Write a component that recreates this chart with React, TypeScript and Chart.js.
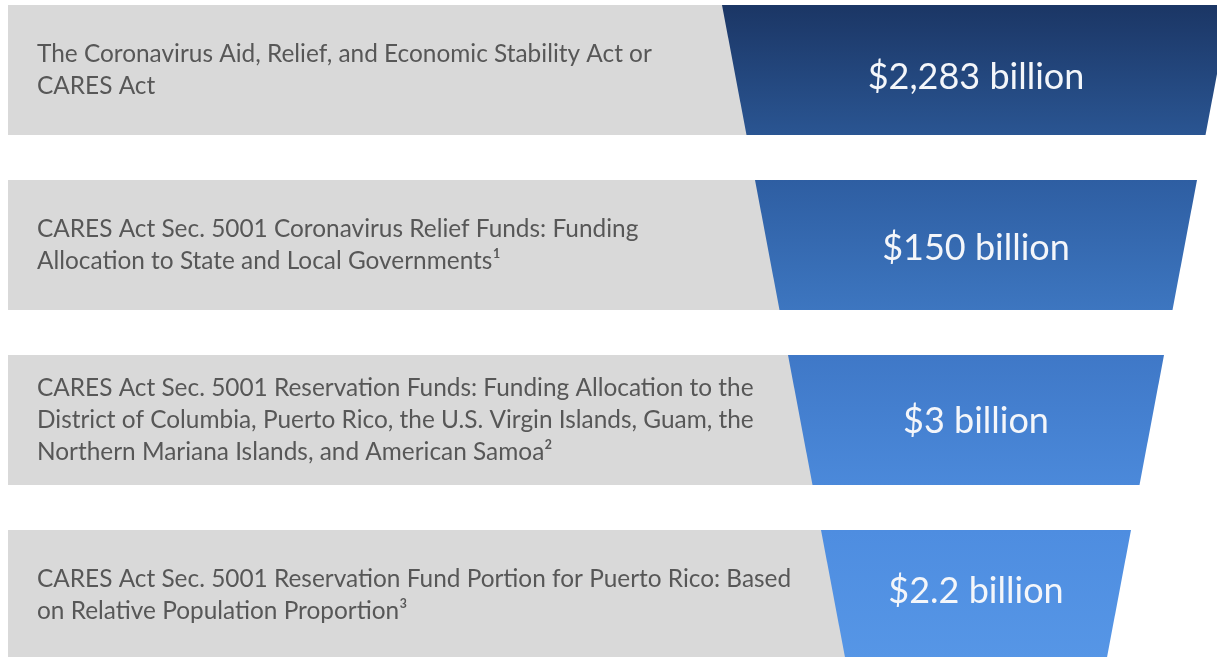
import React, { useEffect, useRef } from "react";
import { Chart, registerables } from "chart.js";

Chart.register(...registerables);

// ---------- data ----------
const stageDescriptions: string[][] = [
  ["The Coronavirus Aid, Relief, and Economic Stability Act or", "CARES Act"],
  ["CARES Act Sec. 5001 Coronavirus Relief Funds: Funding", "Allocation to State and Local Governments\u00B9"],
  [
    "CARES Act Sec. 5001 Reservation Funds: Funding Allocation to the",
    "District of Columbia, Puerto Rico, the U.S. Virgin Islands, Guam, the",
    "Northern Mariana Islands, and American Samoa\u00B2",
  ],
  ["CARES Act Sec. 5001 Reservation Fund Portion for Puerto Rico: Based", "on Relative Population Proportion\u00B3"],
];
const amountsBillion: number[] = [2283, 150, 3, 2.2];
const amountLabels: string[] = ["$2,283 billion", "$150 billion", "$3 billion", "$2.2 billion"];

// ---------- layout / style ----------
const ROW_PITCH_PX = 175;
const X_MAX = 1217;
const Y_MIN = -5 / ROW_PITCH_PX;
const Y_MAX = 652 / ROW_PITCH_PX;
const BAND = 130 / ROW_PITCH_PX;
const BAR_LEFT = 8;
const FUNNEL_CENTER = 976;
const FUNNEL_HALF_TOP = 254;
const FUNNEL_TAPER = 33;
const TEXT_LEFT = 37;
const LINE_HEIGHT = 32;
const LABEL_OFFSETS = [7.5, 3.5, 1, -4];
const GRAY = "#d9d9d9";
const TEXT_COLOR = "#575757";
const GRADIENTS: [string, string][] = [
  ["#1b3665", "#2a5592"],
  ["#2e5ea2", "#3d76c0"],
  ["#3f78c7", "#4b89da"],
  ["#4e8de0", "#5696e6"],
];
const FONT = "Lato, 'Open Sans', sans-serif";

const halfWidth = (y: number) => FUNNEL_HALF_TOP - FUNNEL_TAPER * y;

export default function App() {
  const canvasRef = useRef<HTMLCanvasElement | null>(null);

  useEffect(() => {
    const canvas = canvasRef.current;
    if (!canvas) return;

    const grayDatasets = amountsBillion.map((_, i) => ({
      label: "row" + i,
      data: [
        { x: BAR_LEFT, y: i },
        { x: FUNNEL_CENTER, y: i },
        { x: FUNNEL_CENTER, y: i + BAND },
        { x: BAR_LEFT, y: i + BAND },
        { x: BAR_LEFT, y: i },
      ],
      showLine: true,
      fill: "shape" as const,
      backgroundColor: GRAY,
      borderWidth: 0,
      borderColor: "rgba(0,0,0,0)",
      pointRadius: 0,
      tension: 0,
      order: 2,
    }));

    const funnelDatasets = amountsBillion.map((_, i) => {
      const t = i;
      const b = i + BAND;
      return {
        label: amountLabels[i],
        data: [
          { x: FUNNEL_CENTER - halfWidth(t), y: t },
          { x: FUNNEL_CENTER + halfWidth(t), y: t },
          { x: FUNNEL_CENTER + halfWidth(b), y: b },
          { x: FUNNEL_CENTER - halfWidth(b), y: b },
          { x: FUNNEL_CENTER - halfWidth(t), y: t },
        ],
        showLine: true,
        fill: "shape" as const,
        backgroundColor: (ctx: any) => {
          const chart = ctx.chart;
          const ys = chart.scales?.y;
          if (!chart.chartArea || !ys) return GRADIENTS[i][0];
          const g = chart.ctx.createLinearGradient(0, ys.getPixelForValue(t), 0, ys.getPixelForValue(b));
          g.addColorStop(0, GRADIENTS[i][0]);
          g.addColorStop(1, GRADIENTS[i][1]);
          return g;
        },
        borderWidth: 0,
        borderColor: "rgba(0,0,0,0)",
        pointRadius: 0,
        tension: 0,
        order: 1,
      };
    });

    const textPlugin = {
      id: "funnelText",
      afterDatasetsDraw(chart: any) {
        const c = chart.ctx as CanvasRenderingContext2D;
        const xs = chart.scales.x;
        const ys = chart.scales.y;
        c.save();
        stageDescriptions.forEach((lines, i) => {
          const cy = ys.getPixelForValue(i + BAND / 2);
          c.font = `24.4px ${FONT}`;
          c.fillStyle = TEXT_COLOR;
          c.textAlign = "left";
          c.textBaseline = "middle";
          const startY = cy - ((lines.length - 1) * LINE_HEIGHT) / 2;
          lines.forEach((ln, k) => {
            c.fillText(ln, xs.getPixelForValue(TEXT_LEFT), startY + k * LINE_HEIGHT);
          });
          c.font = `36px ${FONT}`;
          c.fillStyle = "#f4f6fa";
          c.textAlign = "center";
          c.fillText(amountLabels[i], xs.getPixelForValue(FUNNEL_CENTER), cy + LABEL_OFFSETS[i]);
        });
        c.restore();
      },
    };

    const chart = new Chart(canvas, {
      type: "scatter",
      data: { datasets: [...funnelDatasets, ...grayDatasets] as any },
      options: {
        animation: false,
        responsive: false,
        events: [],
        layout: { padding: 0 },
        scales: {
          x: { type: "linear", min: 0, max: X_MAX, display: false },
          y: { type: "linear", min: Y_MIN, max: Y_MAX, reverse: true, display: false },
        },
        plugins: {
          legend: { display: false },
          tooltip: { enabled: false },
        },
      },
      plugins: [textPlugin],
    });

    return () => chart.destroy();
  }, []);

  return (
    <div style={{ position: "absolute", left: 0, top: 0, width: 1217, height: 657, background: "#ffffff" }}>
      <canvas ref={canvasRef} width={1217} height={657} style={{ display: "block" }} />
    </div>
  );
}
